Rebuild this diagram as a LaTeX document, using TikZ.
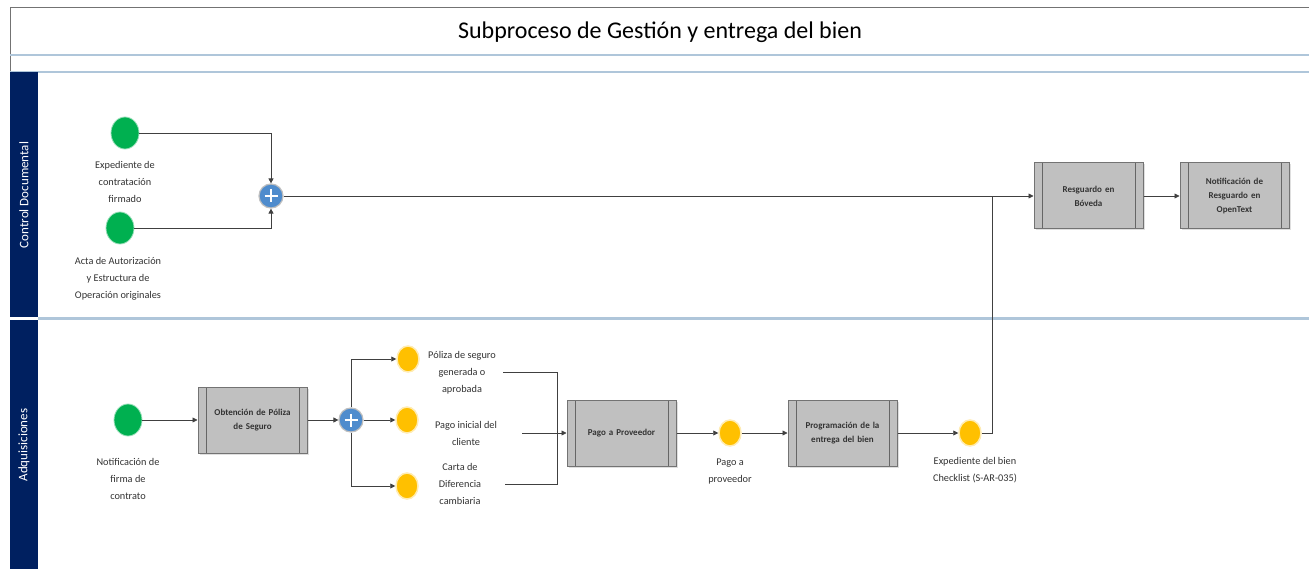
\documentclass[tikz,border=0pt]{standalone}
\usepackage{fontspec}
\setmainfont{Carlito}
\usetikzlibrary{arrows.meta,shapes.geometric,shadows}
\definecolor{navy}{RGB}{0,32,96}
\definecolor{lanec}{RGB}{175,198,218}
\definecolor{bpgreen}{RGB}{0,176,80}
\definecolor{bpyellow}{RGB}{255,192,0}
\definecolor{gwblue}{RGB}{79,140,205}
\definecolor{taskfill}{RGB}{192,192,192}
\tikzset{
  flow/.style={draw=black!75, line width=0.8pt, -{Triangle[length=5pt,width=5pt]}},
  plain/.style={draw=black!75, line width=0.8pt},
  lbl/.style={align=center, font=\fontsize{10.3}{17}\selectfont, text=black!80, inner sep=0pt},
  startev/.style={ellipse, fill=bpgreen, draw=bpgreen!40, line width=0.8pt, minimum width=28pt, minimum height=32pt, inner sep=0pt},
  midev/.style={ellipse, fill=bpyellow, draw=bpyellow!30, line width=1.5pt, minimum width=22pt, minimum height=26pt, inner sep=0pt},
  gw/.style={circle, fill=gwblue, draw=black!25, line width=1.2pt, minimum size=24pt, inner sep=0pt,
    path picture={\draw[white, line width=1.8pt] ([yshift=-5.5pt]path picture bounding box.north) -- ([yshift=5.5pt]path picture bounding box.south)
      ([xshift=5.5pt]path picture bounding box.west) -- ([xshift=-5.5pt]path picture bounding box.east);}},
  task/.style={rectangle, fill=taskfill, draw=black!55, line width=1pt, minimum width=109pt, minimum height=66pt,
    align=center, inner sep=2pt, text width=92pt, font=\bfseries\fontsize{9}{14}\selectfont, text=black!80,
    drop shadow={shadow xshift=1.5pt, shadow yshift=-1.5pt, opacity=0.25},
    path picture={\draw[black!60, line width=0.8pt] ([xshift=8pt]path picture bounding box.north west) -- ([xshift=8pt]path picture bounding box.south west)
      ([xshift=-8pt]path picture bounding box.north east) -- ([xshift=-8pt]path picture bounding box.south east);}},
  lanetitle/.style={rotate=90, text=white, font=\fontsize{13}{15}\selectfont}
}
\begin{document}
\begin{tikzpicture}[x=1pt,y=-1pt]
\useasboundingbox (0,0) rectangle (1309,569);
\fill[white] (0,0) rectangle (1309,569);
% title box
\draw[black!55, line width=1pt] (10,72) -- (10,8) -- (1309,8);
\draw[lanec, line width=2pt] (10,55) -- (1309,55);
\draw[lanec, line width=2pt] (10,72) -- (1309,72);
\node[font=\fontsize{24}{28}\selectfont, text=black] (title) at (660,32) {Subproceso de Gestión y entrega del bien};
% lanes
\fill[navy] (10,72) rectangle (38,317);
\fill[navy] (10,320) rectangle (38,569);
\draw[lanec, line width=2pt] (38,318.5) -- (1309,318.5);
\node[lanetitle] (lane1) at (24,195) {Control Documental};
\node[lanetitle] (lane2) at (24,445) {Adquisiciones};

% lane 1
\node[startev] (s1) at (125,133) {};
\node[lbl] (s1l) at (125,181.5) {Expediente de\\contratación\\firmado};
\node[startev] (s2) at (120,228) {};
\node[lbl] (s2l) at (118,279) {Acta de Autorización\\y Estructura de\\Operación originales};
\node[gw] (g1) at (271,196) {};
\node[task] (r1) at (1088.5,196) {Resguardo en\\Bóveda};
\node[task] (r2) at (1234.5,196) {Notificación de\\Resguardo en\\OpenText};

\draw[flow] (s1.east) -| (g1.north);
\draw[flow] (s2.east) -| (g1.south);
\draw[flow] (g1.east) -- (r1.west);
\draw[flow] (r1.east) -- (r2.west);

% lane 2
\node[startev] (s3) at (128,420) {};
\node[lbl] (s3l) at (128,479) {Notificación de\\firma de\\contrato};
\node[task] (t1) at (252.5,420) {Obtención de Póliza\\de Seguro};
\node[gw] (g2) at (351,420) {};
\node[midev] (e1) at (408,359) {};
\node[midev] (e2) at (407,420) {};
\node[midev] (e3) at (407,486) {};
\node[lbl] (e1l) at (462,373) {Póliza de seguro\\generada o\\aprobada};
\node[lbl] (e2l) at (466,433.5) {Pago inicial del\\cliente};
\node[lbl] (e3l) at (460,484) {Carta de\\Diferencia\\cambiaria};
\node[task] (t2) at (621.5,433) {Pago a Proveedor};
\node[midev] (e4) at (730,433) {};
\node[lbl] (e4l) at (730,471.5) {Pago a\\proveedor};
\node[task] (t3) at (842.5,433) {Programación de la\\entrega del bien};
\node[midev] (e5) at (970,433) {};
\node[lbl] (e5l) at (975,470.5) {Expediente del bien\\Checklist (S-AR-035)};

\coordinate (a1) at (503,372);
\coordinate (a2) at (522,433);
\coordinate (a3) at (505,484);
\coordinate (j) at (557,433);
\coordinate (k) at (992,196);

\draw[flow] (s3.east) -- (t1.west);
\draw[flow] (t1.east) -- (g2.west);
\draw[flow] (g2.north) |- (e1.west);
\draw[flow] (g2.east) -- (e2.west);
\draw[flow] (g2.south) |- (e3.west);
\draw[plain] (a1) -| (j);
\draw[plain] (a3) -| (j);
\draw[flow] (a2) -- (t2.west);
\draw[flow] (t2.east) -- (e4.west);
\draw[flow] (e4.east) -- (t3.west);
\draw[flow] (t3.east) -- (e5.west);
\draw[plain] (e5.east) -| (k);
\end{tikzpicture}
\end{document}
